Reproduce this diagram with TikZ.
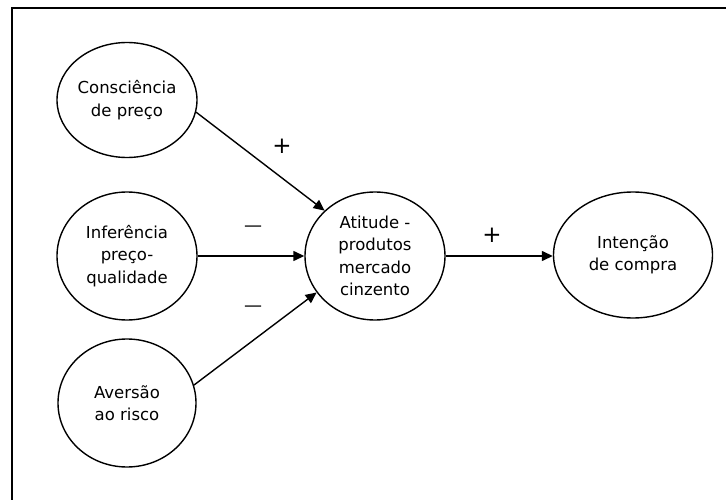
\documentclass[tikz,border=0pt]{standalone}
\usepackage{fontspec}
\setmainfont{DejaVu Sans}
\usetikzlibrary{shapes.geometric,arrows.meta}
\begin{document}
\begin{tikzpicture}[x=1pt,y=-1pt,
  construct/.style={ellipse,draw,line width=1.4pt,inner sep=-10pt,align=center,
    font=\fontsize{16.5pt}{22.5pt}\selectfont},
  link/.style={line width=1.4pt,-{Triangle[length=11pt,width=10pt]}},
  sign/.style={inner sep=0pt}]
  \useasboundingbox (0,0) rectangle (726,500);
  % frame (top and left edges)
  \draw[line width=1.5pt] (12,500) -- (12,8) -- (726,8);

  \node[construct,minimum width=140pt,minimum height=115pt] (cons) at (127,100) {Consciência\\de preço};
  \node[construct,minimum width=140pt,minimum height=128pt] (infe) at (127,256) {Inferência\\preço-\\qualidade};
  \node[construct,minimum width=138pt,minimum height=128pt] (aver) at (127,403) {Aversão\\ao risco};
  \node[construct,minimum width=140pt,minimum height=128pt] (att) at (375,256) {Atitude -\\produtos\\mercado\\cinzento};
  \node[construct,minimum width=159pt,minimum height=126pt] (int) at (633,255) {Intenção\\de compra};

  \draw[link] (cons.-10) -- (att.138);
  \draw[link] (infe.east) -- (att.west);
  \draw[link] (aver.15) -- (att.212);
  \draw[link] (att.east) -- (int.west |- att.east);

  \node[sign,font=\fontsize{23pt}{24pt}\selectfont] (s1) at (282,146) {+};
  \node[sign,font=\fontsize{18pt}{20pt}\selectfont] (s2) at (253,229) {—};
  \node[sign,font=\fontsize{18pt}{20pt}\selectfont] (s3) at (253,309) {—};
  \node[sign,font=\fontsize{23pt}{24pt}\selectfont] (s4) at (492,235) {+};
\end{tikzpicture}
\end{document}
